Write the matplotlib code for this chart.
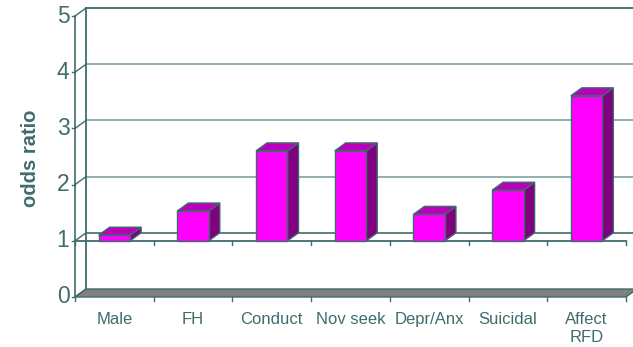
import numpy as np
import matplotlib.pyplot as plt
from matplotlib.patches import Polygon

plt.rcParams['font.family'] = ['Liberation Sans', 'DejaVu Sans']

categories = ['Male', 'FH', 'Conduct', 'Nov seek', 'Depr/Anx', 'Suicidal', 'Affect\nRFD']
odds_ratio = [1.1, 1.53, 2.6, 2.6, 1.47, 1.9, 3.58]
y_ticks = [0, 1, 2, 3, 4, 5]
baseline = 1.0

TEAL = '#3f6c6c'
GRID = '#8aa8a8'
EDGE = '#3d6b6b'
FRONT = '#ff00ff'
TOP = '#bb00bb'
SIDE = '#800080'
FLOOR = '#808080'

# depth offset of the fake 3D box (x in category units, y in data units)
dx, dy = 0.14, 0.142
n = len(categories)
bar_w = 0.4

fig = plt.figure(figsize=(6.33, 3.47), dpi=100)
ax = fig.add_axes([0, 0, 1, 1])
ax.set_xlim(-0.953, 7.09)
ax.set_ylim(-0.89, 5.285)
ax.axis('off')

xr = 7.2  # run lines off the right edge

# back wall: gridlines and top edge
for t in y_ticks[2:]:
    col = TEAL if t == 5 else GRID
    ax.plot([dx, xr], [t + dy, t + dy], color=col, lw=1.3, zorder=1)
ax.plot([dx, xr], [baseline + dy, baseline + dy], color=TEAL, lw=1.2, zorder=1)
ax.plot([dx, dx], [dy, 5 + dy], color=TEAL, lw=1.3, zorder=1)

# floor at zero
floor = Polygon([(0, 0), (n, 0), (n + dx, dy), (dx, dy)], closed=True,
                facecolor=FLOOR, edgecolor=EDGE, lw=1, zorder=2)
ax.add_patch(floor)

# value axis with diagonal connectors to the wall
ax.plot([0, 0], [0, 5], color=TEAL, lw=1.2, zorder=3)
for t in y_ticks:
    ax.plot([-0.04, 0], [t, t], color=TEAL, lw=1, zorder=3)
    ax.plot([0, dx], [t, t + dy], color=TEAL, lw=1, zorder=3)
    ax.text(-0.07, t, str(t), ha='right', va='center', fontsize=16.5, color=TEAL)

# category axis crossing at 1, ticks also on the floor edge
ax.plot([0, n], [baseline, baseline], color=TEAL, lw=1.3, zorder=3)
for i in range(n + 1):
    ax.plot([i, i], [baseline, baseline - 0.07], color=TEAL, lw=1, zorder=3)
    ax.plot([i, i], [0, -0.07], color=TEAL, lw=1, zorder=3)

# 3D columns rising from the baseline
for i, v in enumerate(odds_ratio):
    x0 = i + 0.5 - bar_w / 2
    x1 = x0 + bar_w
    front = [(x0, baseline), (x1, baseline), (x1, v), (x0, v)]
    top = [(x0, v), (x1, v), (x1 + dx, v + dy), (x0 + dx, v + dy)]
    side = [(x1, baseline), (x1 + dx, baseline + dy), (x1 + dx, v + dy), (x1, v)]
    for pts, fc in ((side, SIDE), (top, TOP), (front, FRONT)):
        ax.add_patch(Polygon(pts, closed=True, facecolor=fc, edgecolor=EDGE,
                             lw=1, zorder=4))

for i, lab in enumerate(categories):
    ax.text(i + 0.5, -0.27, lab, ha='center', va='top', fontsize=12,
            color=TEAL, linespacing=1.2)

ax.text(-0.56, 2.47, 'odds ratio', rotation=90, ha='center', va='center',
        fontsize=14.5, fontweight='bold', color=TEAL)

fig.savefig('out.png', dpi=100)
